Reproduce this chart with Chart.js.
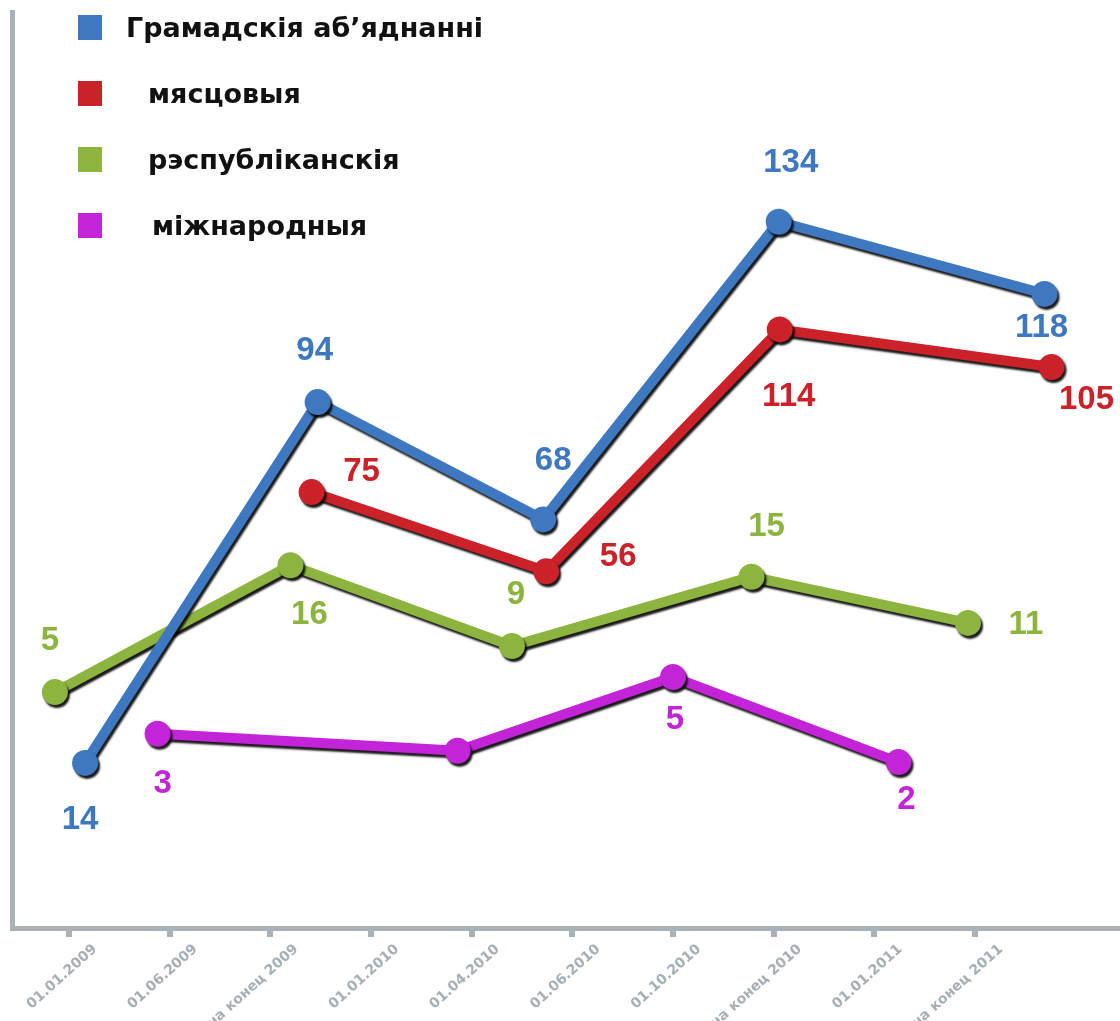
<!DOCTYPE html>
<html>
<head>
<meta charset="utf-8">
<script src="https://cdn.jsdelivr.net/npm/chart.js@4.4.1/dist/chart.umd.min.js"></script>
<style>
    html, body { margin: 0; padding: 0; background: #fff; overflow: hidden; }
    #wrap { position: relative; width: 1120px; height: 1021px; }
    #lineChart { display: block; }
    #legend { position: absolute; left: 78px; top: 14px; font: bold 27px "DejaVu Sans", Arial, sans-serif; color: #111; }
    #legend .item { display: flex; align-items: center; height: 26px; margin-bottom: 40px; white-space: nowrap; }
    #legend .box { width: 24px; height: 25px; flex: none; }
</style>
</head>
<body>
<div id="wrap">
    <canvas id="lineChart" width="1120" height="1021"></canvas>
    <div id="legend"></div>
</div>
<script>
const xLabels = ['01.01.2009', '01.06.2009', 'на конец 2009', '01.01.2010', '01.04.2010',
    '01.06.2010', '01.10.2010', 'на конец 2010', '01.01.2011', 'на конец 2011'];

const seriesNames = ['Грамадскія аб’яднанні', 'мясцовыя', 'рэспубліканскія', 'міжнародныя'];

// x is read against the tick marks (0 = first label, 1 = next ...)
const publicX = [0.16, 2.47, 4.71, 7.05, 9.69];
const publicValues = [14, 94, 68, 134, 118];

const localX = [2.41, 4.74, 7.06, 9.76];
const localValues = [75, 56, 114, 105];

const republicX = [-0.14, 2.20, 4.40, 6.78, 8.93];
const republicValues = [5, 16, 9, 15, 11];

const internationalX = [0.88, 3.86, 6.00, 8.24];
const internationalValues = [3, 2.4, 5, 2];

const colors = ['#3d78c0', '#cb2129', '#8cb43f', '#c424d8'];
const axisColor = '#a9b2b8';
const font = '"Liberation Sans", Arial, sans-serif';

function points(xs, ys) {
    return xs.map((x, i) => ({ x: x, y: ys[i] }));
}

function lineSet(i, data, axis, offsets) {
    return {
        label: seriesNames[i],
        data: data,
        yAxisID: axis,
        borderColor: colors[i],
        backgroundColor: colors[i],
        pointBackgroundColor: colors[i],
        borderWidth: 10,
        pointRadius: 13,
        pointBorderWidth: 0,
        pointHoverRadius: 13,
        tension: 0,
        labelOffsets: offsets
    };
}

const shadowPlugin = {
    id: 'shadow',
    beforeDatasetsDraw(chart) {
        const ctx = chart.ctx;
        ctx.save();
        ctx.shadowColor = 'rgba(0, 0, 0, 0.9)';
        ctx.shadowOffsetX = 2;
        ctx.shadowOffsetY = 3;
        ctx.shadowBlur = 2;
    },
    afterDatasetsDraw(chart) {
        chart.ctx.restore();
    }
};

const valueLabels = {
    id: 'valueLabels',
    afterDraw(chart) {
        const ctx = chart.ctx;
        ctx.save();
        ctx.font = 'bold 33px ' + font;
        ctx.textAlign = 'center';
        ctx.textBaseline = 'middle';
        chart.data.datasets.forEach((ds, i) => {
            chart.getDatasetMeta(i).data.forEach((pt, j) => {
                const off = ds.labelOffsets[j];
                if (!off) return;
                ctx.fillStyle = ds.borderColor;
                ctx.fillText(String(ds.data[j].y), pt.x + off[0], pt.y + off[1]);
            });
        });
        ctx.restore();
    }
};

const hidden = (min, max) => ({ axis: 'y', display: false, min: min, max: max });

const chart = new Chart(document.getElementById('lineChart').getContext('2d'), {
    type: 'line',
    data: {
        datasets: [
            lineSet(0, points(publicX, publicValues), 'yPublic',
                [[-5, 57], [-3, -51], [10, -58], [12, -59], [-3, 34]]),
            lineSet(1, points(localX, localValues), 'yLocal',
                [[50, -20], [72, -14], [9, 67], [35, 33]]),
            lineSet(2, points(republicX, republicValues), 'yRepublic',
                [[-5, -51], [19, 50], [4, -51], [15, -50], [58, 2]]),
            lineSet(3, points(internationalX, internationalValues), 'yIntl',
                [[5, 50], null, [2, 43], [8, 38]])
        ]
    },
    options: {
        responsive: false,
        animation: false,
        layout: { autoPadding: false, padding: { top: 12, left: 12, right: 0, bottom: 0 } },
        plugins: {
            legend: { display: false },
            tooltip: { enabled: false }
        },
        scales: {
            x: {
                type: 'linear',
                min: -0.566,
                max: 10.44,
                afterBuildTicks: scale => {
                    scale.ticks = xLabels.map((_, i) => ({ value: i }));
                },
                afterFit: scale => {
                    scale.height = 93;
                    scale.paddingLeft = 0;
                    scale.paddingRight = 0;
                },
                ticks: {
                    autoSkip: false,
                    minRotation: 42,
                    maxRotation: 42,
                    padding: 4,
                    labelOffset: 26,
                    color: '#a6afb6',
                    font: { family: '"DejaVu Sans", sans-serif', weight: 'bold', size: 14 },
                    callback: value => xLabels[value]
                },
                grid: {
                    drawOnChartArea: false,
                    drawTicks: true,
                    tickLength: 9,
                    lineWidth: 6,
                    color: axisColor
                },
                border: { display: true, color: axisColor, width: 5 }
            },
            yPublic: {
                axis: 'y',
                position: 'left',
                min: -22.6,
                max: 180.5,
                afterFit: scale => { scale.width = 0; },
                ticks: { display: false },
                grid: { display: false },
                border: { display: true, color: axisColor, width: 5 }
            },
            yLocal: hidden(-29.5, 190.1),
            yRepublic: hidden(-15.46, 63.98),
            yIntl: hidden(-3.85, 28.45)
        }
    },
    plugins: [shadowPlugin, valueLabels]
});

// legend: the names are indented differently in the original
const legendIndent = [48, 70, 70, 74];
const legend = document.getElementById('legend');
chart.data.datasets.forEach((ds, i) => {
    const item = document.createElement('div');
    item.className = 'item';
    item.innerHTML = '<span class="box" style="background:' + ds.borderColor + '"></span>' +
        '<span style="margin-left:' + (legendIndent[i] - 24) + 'px">' + ds.label + '</span>';
    legend.appendChild(item);
});
</script>
</body>
</html>
